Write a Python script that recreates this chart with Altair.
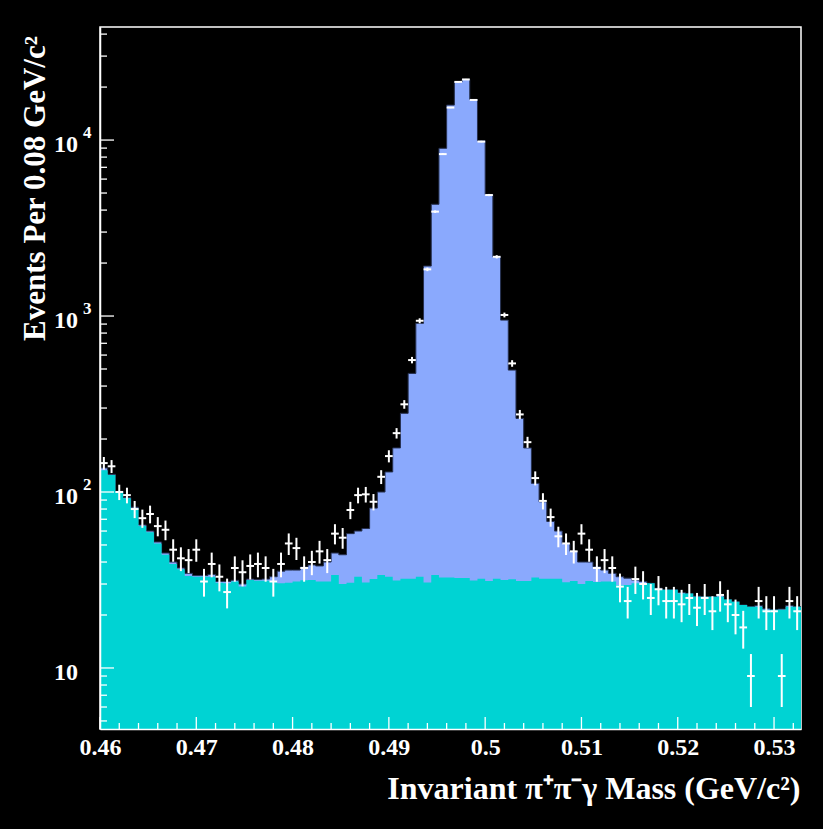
import altair as alt
import pandas as pd

# ---------------- data ----------------
BIN_LO = 0.46
BIN_W = 0.0008
X_MIN, X_MAX = 0.46, 0.5328
Y_MIN, Y_MAX = 4.5, 43900

total = [
    137, 126, 101, 93, 82, 65, 60, 52, 45, 40,
    37, 34.5, 33.5, 33.5, 34, 31, 31, 31.5, 30, 32,
    31.8, 32, 33, 35.5, 36, 36, 37.5, 38.5, 38, 40,
    45, 44, 58, 60, 62, 81, 100, 130, 178, 280,
    472, 909, 1923, 4315, 8975, 15800, 21400, 22100, 17000, 9900,
    4910, 2170, 948, 493, 262, 178, 112, 88, 68, 60,
    51, 46, 40, 40, 37.6, 36, 34.5, 33, 32.4, 31.6,
    31, 30.3, 28.4, 27.8, 27.8, 26.8, 26.5, 25.6, 25.4, 25.4,
    25.8, 24.5, 23.8, 22.8, 22.3, 22.6, 21.7, 21.4, 21.6, 22.6,
    22.3]

background = [
    133, 125, 100, 92, 81, 64, 59, 51, 44, 39,
    36.4, 33.3, 33, 33, 33, 30.5, 30.3, 31, 29, 31.6,
    31.3, 31.3, 31, 30.3, 30.5, 31, 31.5, 31.6, 31, 31,
    33.8, 30, 30.5, 33, 30.6, 32, 33.8, 33, 31.4, 32.1,
    32.1, 33, 30.6, 33.8, 32.7, 32.7, 32.5, 32.5, 31.4, 32.1,
    31.2, 32.1, 31.6, 31.9, 31.2, 31.2, 32.7, 32.1, 32.1, 32.1,
    30.7, 31.2, 30, 31.2, 30.8, 31, 31, 29.6, 29.6, 30.3,
    30.3, 30.3, 28, 27.8, 27.8, 26.5, 26.5, 25.4, 25.4, 25.4,
    25.4, 24.5, 23.8, 22.8, 22.3, 22.3, 21.4, 21.4, 21.4, 22.3,
    22.3]

events = [
    146, 140, 100, 96, 80, 71, 75, 64, 61, 47,
    42, 41, 47, 31, 39, 33, 27, 37, 35, 38,
    39, 37, 31, 39, 51, 48, 37, 40, 46, 41,
    58, 55, 79, 96, 97, 88, 122, 160, 216, 315,
    562, 940, 1842, 3920, 8320, 15300, 21400, 22100, 16900, 9800,
    4870, 2170, 1014, 538, 276, 192, 120, 89, 72, 56,
    51, 46, 58, 47, 37, 41, 37, 29, 24, 32,
    30, 25, 28, 24, 24, 23, 25, 22, 25, 21,
    26, 23, 20, 17, 9, 24, 21, 21, 9, 24,
    21]

x_major = [0.46, 0.47, 0.48, 0.49, 0.50, 0.51, 0.52, 0.53]
x_minor = [0.462, 0.464, 0.466, 0.468, 0.472, 0.474, 0.476, 0.478,
           0.482, 0.484, 0.486, 0.488, 0.492, 0.494, 0.496, 0.498,
           0.502, 0.504, 0.506, 0.508, 0.512, 0.514, 0.516, 0.518,
           0.522, 0.524, 0.526, 0.528, 0.532]
y_major = [10, 100, 1000, 10000]
y_minor = [5, 6, 7, 8, 9,
           20, 30, 40, 50, 60, 70, 80, 90,
           200, 300, 400, 500, 600, 700, 800, 900,
           2000, 3000, 4000, 5000, 6000, 7000, 8000, 9000,
           20000, 30000, 40000]
y_label_vals = [10, 100, 1000, 10000]
y_label_base = ["10", "10", "10", "10"]
y_label_sup = ["", "2", "3", "4"]

# ---------------- tables ----------------
n = len(total)
hist = pd.DataFrame({
    "x0": [BIN_LO + BIN_W * i for i in range(n)],
    "x1": [BIN_LO + BIN_W * (i + 1) for i in range(n)],
    "events": events,
})
hist["xc"] = (hist["x0"] + hist["x1"]) / 2

# step outlines: one point per bin edge (last bin repeated at the closing edge)
steps = pd.DataFrame({
    "edge": [BIN_LO + BIN_W * i for i in range(n + 1)],
    "total": total + [total[-1]],
    "background": background + [background[-1]],
})

ymaj = pd.DataFrame({"v": y_major})
ymin = pd.DataFrame({"v": y_minor})
xmaj = pd.DataFrame({"v": x_major})
xmin = pd.DataFrame({"v": x_minor})
ylab = pd.DataFrame({"v": y_label_vals, "base": y_label_base, "sup": y_label_sup})

W, H = 701, 702
BLUE = "#8aa9fd"
CYAN = "#00d3d3"
WHITE = "#ffffff"
FONT = "Liberation Serif"

xscale = alt.Scale(domain=[X_MIN, X_MAX], nice=False, zero=False)
yscale = alt.Scale(type="log", domain=[Y_MIN, Y_MAX], nice=False)

xaxis = alt.Axis(values=x_major, format="~g", ticks=False, grid=False,
                 domain=True, domainColor=WHITE, domainWidth=1.5,
                 labelFont=FONT, labelFontWeight="bold", labelFontSize=24,
                 labelColor=WHITE, labelFlush=False, labelPadding=6,
                 title="Invariant π⁺π⁻γ Mass (GeV/c²)",
                 titleFont=FONT, titleFontWeight="bold", titleFontSize=32,
                 titleColor=WHITE, titleAnchor="end", titleAlign="right",
                 titleBaseline="alphabetic", titleX=700, titleY=69, zindex=1)
yaxis = alt.Axis(labels=False, ticks=False, grid=False,
                 domain=True, domainColor=WHITE, domainWidth=1.5,
                 title="Events Per 0.08 GeV/c²",
                 titleFont=FONT, titleFontWeight="bold", titleFontSize=31,
                 titleColor=WHITE, titleAngle=270, titleAlign="center",
                 titleBaseline="middle", titleX=-65, titleY=161, zindex=1)


def X(field):
    return alt.X(field, scale=xscale, axis=xaxis)


def Y(field):
    return alt.Y(field, scale=yscale, axis=yaxis)


h_total = alt.Chart(steps).mark_area(
    color=BLUE, opacity=1, fillOpacity=1, interpolate="step-after", clip=True,
    line={"color": "#26304f", "strokeWidth": 1}).encode(
    x=X("edge:Q"), y=Y("total:Q"), y2=alt.datum(Y_MIN))
h_bg = alt.Chart(steps).mark_area(
    color=CYAN, opacity=1, fillOpacity=1, interpolate="step-after", clip=True).encode(
    x=X("edge:Q"), y=Y("background:Q"), y2=alt.datum(Y_MIN))

err_v = alt.Chart(hist).transform_calculate(
    lo="datum.events - sqrt(datum.events)",
    hi="datum.events + sqrt(datum.events)",
).mark_rule(color=WHITE, strokeWidth=2, clip=True).encode(
    x=X("xc:Q"), y=Y("lo:Q"), y2="hi:Q")
err_h = alt.Chart(hist).mark_rule(color=WHITE, strokeWidth=2, clip=True).encode(
    x=X("x0:Q"), x2="x1:Q", y=Y("events:Q"))

tick_y_major = alt.Chart(ymaj).mark_rule(color=WHITE, strokeWidth=1.3).encode(
    y=Y("v:Q"), x=alt.value(0), x2=alt.value(14))
tick_y_minor = alt.Chart(ymin).mark_rule(color=WHITE, strokeWidth=1.3).encode(
    y=Y("v:Q"), x=alt.value(0), x2=alt.value(7))
tick_x_major = alt.Chart(xmaj).mark_rule(color=WHITE, strokeWidth=1.3).encode(
    x=X("v:Q"), y=alt.value(H), y2=alt.value(H - 12))
tick_x_minor = alt.Chart(xmin).mark_rule(color=WHITE, strokeWidth=1.3).encode(
    x=X("v:Q"), y=alt.value(H), y2=alt.value(H - 6))

lab_base = alt.Chart(ylab).mark_text(
    font=FONT, fontWeight="bold", fontSize=24, color=WHITE,
    align="right", baseline="middle", dy=5).encode(
    y=Y("v:Q"), x=alt.value(-22), text="base:N")
lab_sup = alt.Chart(ylab).mark_text(
    font=FONT, fontWeight="bold", fontSize=17, color=WHITE,
    align="left", baseline="middle", dy=-7).encode(
    y=Y("v:Q"), x=alt.value(-17), text="sup:N")

chart = alt.layer(
    h_total, h_bg, err_v, err_h,
    tick_y_major, tick_y_minor, tick_x_major, tick_x_minor,
    lab_base, lab_sup,
).properties(
    width=W, height=H,
    autosize=alt.AutoSizeParams(type="none"),
    padding={"left": 100, "top": 27, "right": 22, "bottom": 100},
    background="#000000",
).configure_view(stroke=WHITE, strokeWidth=1.5, fill="#000000")

chart.save("out.html", embed_options={"renderer": "svg", "actions": False})
